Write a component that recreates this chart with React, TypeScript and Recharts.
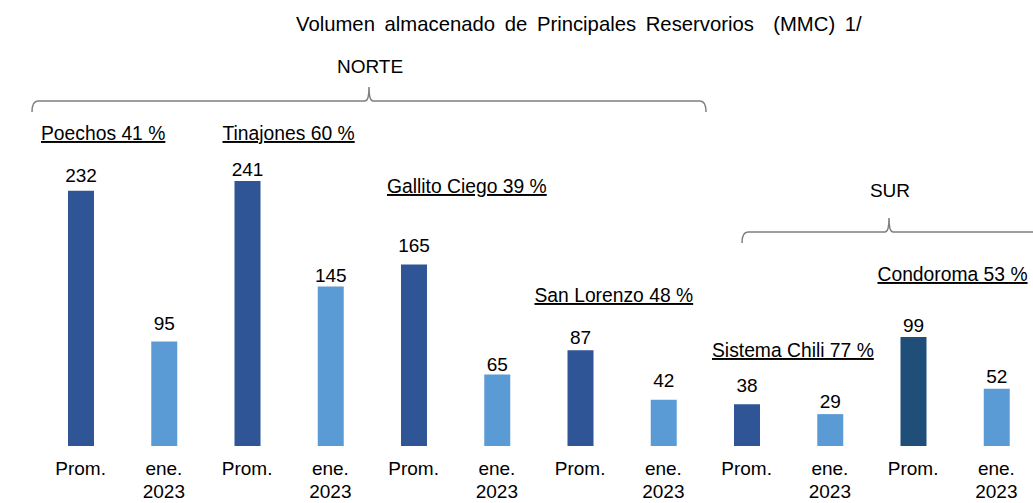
import { BarChart, Bar, XAxis, YAxis, Cell, LabelList, Customized } from "recharts";

const CATEGORIES = [
  "Prom.", "ene. 2023",
  "Prom.", "ene. 2023",
  "Prom.", "ene. 2023",
  "Prom.", "ene. 2023",
  "Prom.", "ene. 2023",
  "Prom.", "ene. 2023",
];
const VOLUMES = [232, 95, 241, 145, 165, 65, 87, 42, 38, 29, 99, 52];
const RESERVOIRS = ["Poechos", "Tinajones", "Gallito Ciego", "San Lorenzo", "Sistema Chili", "Condoroma"];
const PERCENTS = [41, 60, 39, 48, 77, 53];
const TITLE = "Volumen almacenado de Principales Reservorios  (MMC) 1/";

const FONT = "'Liberation Sans', Arial, sans-serif";
const PROM_COLOR = "#2F5597";
const ENE_COLOR = "#5B9BD5";
const CONDOROMA_COLOR = "#1F4E79";
const BRACE_COLOR = "#7F7F7F";

// gap between bar top and value-label baseline (labels were hand placed in the original)
const LABEL_GAP = [9, 12, 5, 5, 13, 4, 6, 13, 12, 6, 5, 6];

// reservoir names: offset from the Prom. bar left edge, text baseline
const NAME_POS = [
  { dx: -27, y: 140 },
  { dx: -12, y: 140 },
  { dx: -14, y: 193 },
  { dx: -33, y: 302 },
  { dx: -22, y: 357 },
  { dx: -23, y: 281 },
];

const CHART_W = 1038;
const CHART_H = 503;
const MARGIN = { top: 116, right: 0, left: 39, bottom: 7 };

const data = CATEGORIES.map((c, i) => ({ id: i, cat: c, value: VOLUMES[i] }));

function barColor(i: number) {
  if (i === 10) return CONDOROMA_COLOR;
  return i % 2 === 0 ? PROM_COLOR : ENE_COLOR;
}

function CategoryTick(props: any) {
  const { x, y, payload } = props;
  const lines = String(payload?.value ?? "").split(" ");
  return (
    <text x={x} y={y} textAnchor="middle" fill="#000" fontSize={19} fontFamily={FONT}>
      {lines.map((l, k) => (
        <tspan key={k} x={x} dy={k === 0 ? 29 : 23}>
          {l}
        </tspan>
      ))}
    </text>
  );
}

function ValueLabel(props: any) {
  const { x, y, width, value, index } = props;
  if (index == null) return null;
  return (
    <text
      x={Number(x) + Number(width) / 2}
      y={Number(y) - LABEL_GAP[index]}
      textAnchor="middle"
      fill="#000"
      fontSize={19}
      fontFamily={FONT}
    >
      {value}
    </text>
  );
}

function ReservoirName(props: any) {
  const { x, index } = props;
  if (index == null || index % 2 !== 0) return null;
  const r = index / 2;
  const pos = NAME_POS[r];
  return (
    <text
      x={Number(x) + pos.dx}
      y={pos.y}
      fill="#000"
      fontSize={19.3}
      fontFamily={FONT}
      style={{ textDecoration: "underline", whiteSpace: "pre" }}
    >
      {`${RESERVOIRS[r]} ${PERCENTS[r]} %`}
    </text>
  );
}

function bracePath(x1: number, x2: number, xm: number, y: number) {
  const down = 11;
  const up = 14;
  return [
    `M ${x1} ${y + down}`,
    `Q ${x1} ${y} ${x1 + 6} ${y}`,
    `L ${xm - 4} ${y}`,
    `Q ${xm} ${y} ${xm} ${y - up}`,
    `Q ${xm} ${y} ${xm + 4} ${y}`,
    `L ${x2 - 6} ${y}`,
    `Q ${x2} ${y} ${x2} ${y + down}`,
  ].join(" ");
}

function Annotations() {
  return (
    <g fontFamily={FONT} fill="#000">
      <text x={296} y={31} fontSize={20.3} style={{ whiteSpace: "pre", wordSpacing: "4px" }}>
        {TITLE}
      </text>
      <text x={370} y={73} fontSize={19} textAnchor="middle">NORTE</text>
      <path d={bracePath(32, 706, 369, 101)} stroke={BRACE_COLOR} strokeWidth={1.5} fill="none" />
      <text x={890} y={197} fontSize={19} textAnchor="middle">SUR</text>
      <path d={bracePath(742, 1060, 889, 232)} stroke={BRACE_COLOR} strokeWidth={1.5} fill="none" />
    </g>
  );
}

export default function App() {
  return (
    <div
      style={{
        position: "absolute",
        left: 0,
        top: 0,
        width: 1033,
        height: 503,
        overflow: "hidden",
        background: "#fff",
      }}
    >
      <BarChart width={CHART_W} height={CHART_H} data={data} margin={MARGIN}>
        <XAxis
          dataKey="id"
          type="category"
          axisLine={false}
          tickLine={false}
          tickSize={0}
          tickMargin={0}
          height={50}
          interval={0}
          tick={(p: any) => <CategoryTick {...p} payload={{ value: CATEGORIES[p.payload.value] }} />}
        />
        <YAxis hide domain={[0, 300]} />
        <Bar dataKey="value" barSize={26} isAnimationActive={false}>
          {data.map((d, i) => (
            <Cell key={d.id} fill={barColor(i)} />
          ))}
          <LabelList dataKey="value" content={ValueLabel} />
          <LabelList dataKey="value" content={ReservoirName} />
        </Bar>
        <Customized component={Annotations} />
      </BarChart>
    </div>
  );
}
